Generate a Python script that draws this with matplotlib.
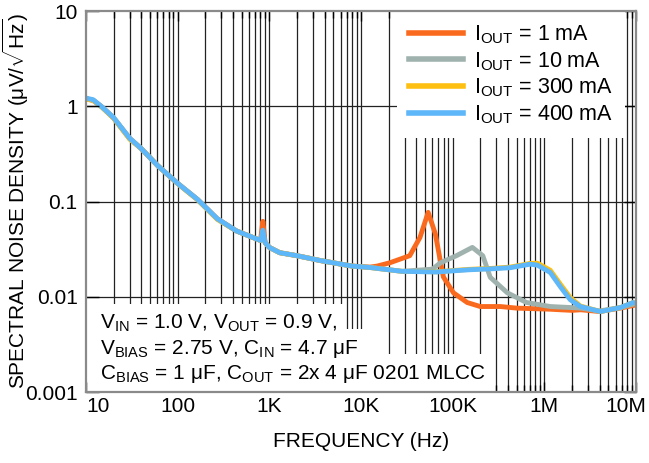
import matplotlib
matplotlib.use('Agg')
import matplotlib.pyplot as plt
from matplotlib.ticker import FixedLocator, FixedFormatter, LogLocator, NullLocator, NullFormatter

plt.rcParams['font.family'] = ['Liberation Sans', 'DejaVu Sans']
plt.rcParams['mathtext.fontset'] = 'custom'
plt.rcParams['mathtext.rm'] = 'Liberation Sans'
plt.rcParams['mathtext.it'] = 'Liberation Sans:italic'
plt.rcParams['mathtext.default'] = 'regular'

# Spectral noise density (uV/rtHz), per load current
freq_1ma = [10, 12, 15, 20, 30, 40, 60, 100, 165, 270, 440, 800, 850, 900, 1000, 1300, 2000,
            3600, 8000, 12500, 15000, 20800, 34000, 44000, 54000, 64600, 79000, 102000, 144000,
            200000, 331000, 500000, 759000, 1160000, 1500000, 2000000, 2500000, 4000000,
            6700000, 10000000]
nsd_1ma = [1.2, 1.15, 0.98, 0.75, 0.46, 0.36, 0.24, 0.155, 0.105, 0.066, 0.049, 0.039, 0.062,
           0.037, 0.033, 0.029, 0.027, 0.024, 0.021, 0.0205, 0.021, 0.0228, 0.027, 0.042, 0.077,
           0.046, 0.0162, 0.011, 0.0087, 0.0079, 0.0079, 0.0076, 0.0075, 0.0074, 0.0073,
           0.0072, 0.0073, 0.0070, 0.0076, 0.0082]

freq_10ma = [10, 12, 15, 20, 30, 40, 60, 100, 165, 270, 440, 800, 850, 900, 1000, 1300, 2000,
             3600, 8000, 12500, 28000, 60000, 74000, 110000, 164000, 213000, 257000, 395000,
             640000, 1160000, 1500000, 2000000, 2500000, 4000000, 6700000, 10000000]
nsd_10ma = [1.2, 1.16, 0.98, 0.76, 0.46, 0.36, 0.24, 0.155, 0.105, 0.066, 0.049, 0.039, 0.045,
            0.037, 0.033, 0.029, 0.027, 0.024, 0.021, 0.0203, 0.0185, 0.0195, 0.0228, 0.027,
            0.033, 0.027, 0.016, 0.011, 0.0087, 0.0079, 0.0078, 0.0077, 0.0076, 0.0071,
            0.0077, 0.0085]

freq_300ma = [10, 12, 15, 20, 30, 40, 60, 100, 165, 270, 440, 800, 850, 900, 1000, 1300, 2000,
              3600, 8000, 12500, 28000, 66000, 150000, 277000, 426000, 700000, 840000, 1160000,
              1500000, 1920000, 2470000, 4080000, 6760000, 9300000, 10000000]
nsd_300ma = [1.19, 1.15, 0.97, 0.75, 0.45, 0.36, 0.24, 0.154, 0.104, 0.065, 0.049, 0.039, 0.045,
             0.037, 0.033, 0.029, 0.027, 0.024, 0.021, 0.0203, 0.0185, 0.0183, 0.0194, 0.0199,
             0.0205, 0.0224, 0.0225, 0.019, 0.0135, 0.0098, 0.0080, 0.0070, 0.0077, 0.0087,
             0.0085]

freq_400ma = [10, 12, 15, 20, 30, 40, 60, 100, 165, 270, 440, 800, 850, 900, 1000, 1300, 2000,
              3600, 8000, 12500, 28000, 66000, 150000, 277000, 426000, 700000, 840000, 1160000,
              1500000, 1920000, 2470000, 4080000, 6760000, 9300000, 10000000]
nsd_400ma = [1.22, 1.17, 0.98, 0.76, 0.46, 0.36, 0.24, 0.155, 0.105, 0.066, 0.049, 0.039, 0.05,
             0.037, 0.033, 0.029, 0.027, 0.024, 0.021, 0.0203, 0.0185, 0.0182, 0.0192, 0.0197,
             0.0202, 0.022, 0.0215, 0.018, 0.0127, 0.0093, 0.0079, 0.0070, 0.0077, 0.0087,
             0.0085]

x_ticks = [10, 100, 1e3, 1e4, 1e5, 1e6, 1e7]
x_labels = ['10', '100', '1K', '10K', '100K', '1M', '10M']
y_ticks = [0.001, 0.01, 0.1, 1, 10]
y_labels = ['0.001', '0.01', '0.1', '1', '10']

series = [
    (freq_1ma, nsd_1ma, r'I$_{OUT}$ = 1 mA', '#FA6A1E'),
    (freq_10ma, nsd_10ma, r'I$_{OUT}$ = 10 mA', '#9FB2AD'),
    (freq_300ma, nsd_300ma, r'I$_{OUT}$ = 300 mA', '#FDBF12'),
    (freq_400ma, nsd_400ma, r'I$_{OUT}$ = 400 mA', '#5DB7F8'),
]

fig = plt.figure(figsize=(6.49, 4.63), dpi=100)
ax = fig.add_axes([0.1325, 0.1533, 0.8475, 0.8229])
ax.set_xscale('log')
ax.set_yscale('log')
ax.set_xlim(10, 1e7)
ax.set_ylim(1e-3, 10)

for f, v, lab, col in series:
    ax.plot(f, v, color=col, lw=3.5, label=lab, zorder=1.5)

ax.xaxis.set_major_locator(FixedLocator(x_ticks))
ax.xaxis.set_major_formatter(NullFormatter())
ax.xaxis.set_minor_locator(LogLocator(base=10, subs=range(2, 10)))
ax.xaxis.set_minor_formatter(NullFormatter())
ax.yaxis.set_major_locator(FixedLocator(y_ticks))
ax.yaxis.set_major_formatter(FixedFormatter(y_labels))
ax.yaxis.set_minor_locator(NullLocator())

# grid drawn by hand so the legend / note boxes can sit between grid and ticks
xg = [x for x in list(ax.get_xticks()) + list(ax.xaxis.get_minorticklocs()) if 10 < x < 1e7]
ax.vlines(xg, 0, 1, transform=ax.get_xaxis_transform(), colors='#222222', lw=0.9, zorder=1)
yg = [y for y in ax.get_yticks() if 1e-3 < y < 10]
ax.hlines(yg, 0, 1, transform=ax.get_yaxis_transform(), colors='#222222', lw=0.9, zorder=1)

ax.tick_params(axis='both', which='both', direction='in', top=True, right=True,
               labelsize=15, colors='black')
ax.tick_params(axis='x', which='major', length=7, width=1)
ax.tick_params(axis='x', which='minor', length=5, width=1)
ax.tick_params(axis='y', which='major', length=9, width=1, pad=6)
for s in ax.spines.values():
    s.set_color('#8a8a8a')
    s.set_linewidth(1.6)

# x tick labels: end labels kept inside the figure like the original
for i, (xt, lab) in enumerate(zip(x_ticks, x_labels)):
    ha = 'center'
    xpos = xt
    if i == 0:
        ha = 'left'
    elif i == len(x_ticks) - 1:
        ha = 'right'
        xpos = xt * 1.28
    ax.text(xpos, -0.013, lab, transform=ax.get_xaxis_transform(), ha=ha, va='top',
            fontsize=15, clip_on=False)

ax.set_xlabel('FREQUENCY (Hz)', fontsize=15)
ax.xaxis.set_label_coords(0.5, -0.105)
ax.set_ylabel(r'SPECTRAL NOISE DENSITY (μV/$\sqrt{Hz}$)', fontsize=15)
ax.yaxis.set_label_coords(-0.100, 0.5)

leg = ax.legend(loc='upper right', bbox_to_anchor=(0.98, 1), borderaxespad=0, fontsize=15.5,
                frameon=True, fancybox=False, edgecolor='none', facecolor='white',
                framealpha=1, handlelength=2.5, handletextpad=0.5, labelspacing=0.2,
                borderpad=0.56)
for h in leg.get_lines():
    h.set_linewidth(4)
leg.set_zorder(2)

notes = [r'V$_{IN}$ = 1.0 V, V$_{OUT}$ = 0.9 V,',
         r'V$_{BIAS}$ = 2.75 V, C$_{IN}$ = 4.7 μF',
         r'C$_{BIAS}$ = 1 μF, C$_{OUT}$ = 2x 4 μF 0201 MLCC']
note_y = [0.181, 0.114, 0.048]
for t, yy in zip(notes, note_y):
    # white patch behind each line, then the text itself on top
    ax.text(0.026, yy, t, transform=ax.transAxes, fontsize=15, va='center', ha='left',
            color=(0, 0, 0, 0), zorder=2,
            bbox=dict(facecolor='white', edgecolor='none', pad=6))
    ax.text(0.026, yy, t, transform=ax.transAxes, fontsize=15, va='center', ha='left',
            color='black', zorder=2.2)

fig.savefig('out.png', dpi=100)
